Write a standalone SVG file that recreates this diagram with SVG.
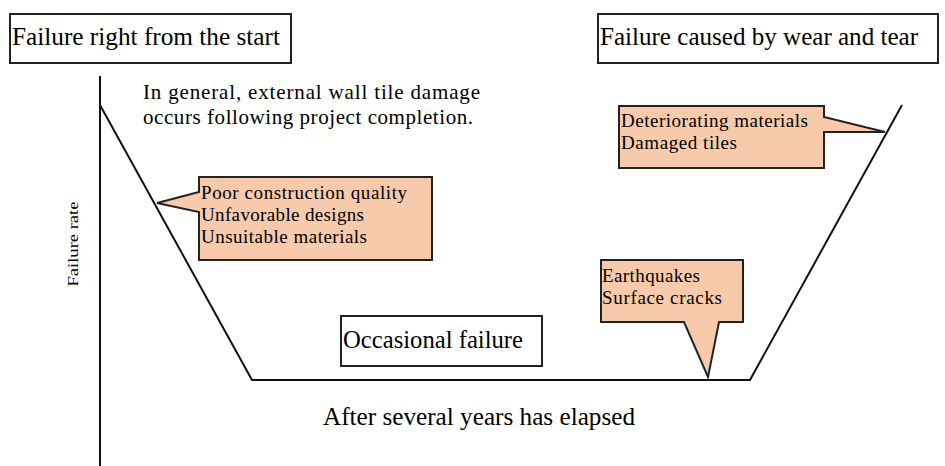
<svg xmlns="http://www.w3.org/2000/svg" width="945" height="466" viewBox="0 0 945 466">
<style>
text{font-family:"Liberation Serif","Times New Roman",serif;fill:#000}
.box{fill:#fff;stroke:#222;stroke-width:2}
.call{fill:#F8CAAC;stroke:#222;stroke-width:2;stroke-linejoin:miter}
.ln{fill:none;stroke:#111;stroke-width:2}
.t25{font-size:25px}
.t21{font-size:21px}
.t19{font-size:19px}
</style>
<rect width="945" height="466" fill="#fff"/>
<g id="connectors">
<line class="ln" x1="100" y1="76" x2="100" y2="466"/>
<polyline class="ln" points="100,105 252,380 750,380 902,105"/>
</g>
<g id="axis-label"><text x="78" y="244" font-size="14" text-anchor="middle" textLength="85" lengthAdjust="spacingAndGlyphs" transform="rotate(-90 78 244)" fill="#222">Failure rate</text></g>
<g id="title-left"><rect class="box" x="10" y="14" width="281" height="49"/><text class="t25" x="12" y="45" textLength="268" lengthAdjust="spacingAndGlyphs">Failure right from the start</text></g>
<g id="title-right"><rect class="box" x="598" y="14" width="340" height="49"/><text class="t25" x="600" y="45" textLength="318" lengthAdjust="spacingAndGlyphs">Failure caused by wear and tear</text></g>
<g id="note"><text class="t21" x="143" y="99" textLength="337" lengthAdjust="spacing">In general, external wall tile damage</text><text class="t21" x="143" y="124" textLength="330" lengthAdjust="spacing">occurs following project completion.</text></g>
<g id="callout-initial"><path class="call" d="M199,177 H432 V260 H199 V212 L157,203 L199,192 Z"/><text class="t19" x="201" y="199" textLength="206" lengthAdjust="spacing">Poor construction quality</text><text class="t19" x="201" y="221" textLength="163" lengthAdjust="spacing">Unfavorable designs</text><text class="t19" x="201" y="243" textLength="166" lengthAdjust="spacing">Unsuitable materials</text></g>
<g id="callout-wear"><path class="call" d="M619,106 H824 V117 L885,132 H824 V168 H619 Z"/><text class="t19" x="621" y="127" textLength="187" lengthAdjust="spacing">Deteriorating materials</text><text class="t19" x="621" y="149" textLength="116" lengthAdjust="spacing">Damaged tiles</text></g>
<g id="callout-occasional"><path class="call" d="M601,260 H743 V322 H719 L708,377 L684,322 H601 Z"/><text class="t19" x="602" y="282" textLength="98" lengthAdjust="spacing">Earthquakes</text><text class="t19" x="602" y="304" textLength="120" lengthAdjust="spacing">Surface cracks</text></g>
<g id="occasional"><rect class="box" x="341" y="316" width="201" height="50"/><text class="t25" x="343" y="348" textLength="180" lengthAdjust="spacingAndGlyphs">Occasional failure</text></g>
<g id="x-note"><text class="t25" x="323" y="425" textLength="312" lengthAdjust="spacingAndGlyphs">After several years has elapsed</text></g>
</svg>
